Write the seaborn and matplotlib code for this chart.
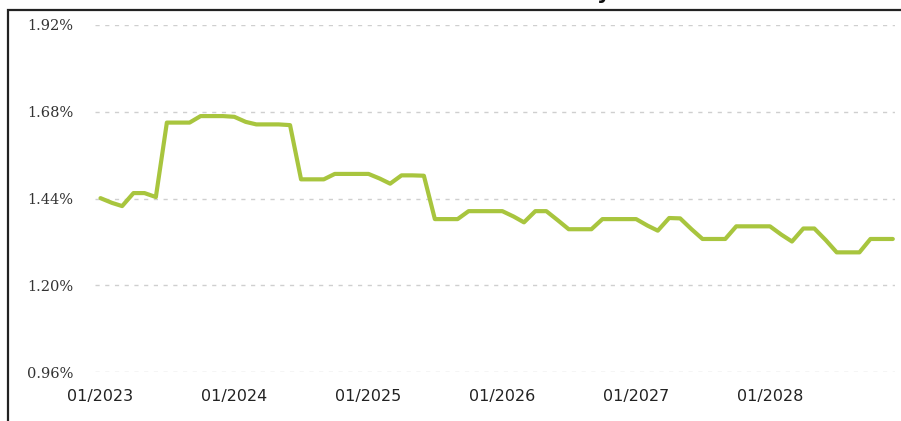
"""
Monthly rate projection, 2023-2028.
"""

import matplotlib
matplotlib.use("Agg")
import matplotlib.pyplot as plt
import matplotlib.dates as mdates
from matplotlib.patches import Rectangle
from matplotlib.ticker import FuncFormatter
import pandas as pd
import seaborn as sns

# one value per month, Jan 2023 .. Dec 2028 (in %)
months = pd.date_range("2023-01-01", periods=72, freq="MS")
rate_2023 = [1.441, 1.428, 1.419, 1.455, 1.455, 1.444,
             1.650, 1.650, 1.650, 1.668, 1.668, 1.668]
rate_2024 = [1.666, 1.652, 1.645, 1.645, 1.645, 1.643,
             1.493, 1.493, 1.493, 1.508, 1.508, 1.508]
rate_2025 = [1.508, 1.495, 1.481, 1.504, 1.504, 1.503,
             1.383, 1.383, 1.383, 1.405, 1.405, 1.405]
rate_2026 = [1.405, 1.390, 1.374, 1.405, 1.405, 1.380,
             1.355, 1.355, 1.355, 1.383, 1.383, 1.383]
rate_2027 = [1.383, 1.365, 1.351, 1.386, 1.385, 1.355,
             1.328, 1.328, 1.328, 1.363, 1.363, 1.363]
rate_2028 = [1.363, 1.340, 1.321, 1.357, 1.357, 1.325,
             1.291, 1.291, 1.291, 1.328, 1.328, 1.328]
y_ticks = [0.96, 1.20, 1.44, 1.68, 1.92]

df = pd.DataFrame({
    "month": months,
    "rate": rate_2023 + rate_2024 + rate_2025 + rate_2026 + rate_2027 + rate_2028,
})

sns.set_style("white")
W, H = 901, 421
fig = plt.figure(figsize=(W / 100, H / 100), dpi=100)
ax = fig.add_axes([95 / W, 1 - 372 / H, 800 / W, 347 / H])

sns.lineplot(data=df, x="month", y="rate", ax=ax, color="#a8c53e",
             linewidth=3.0, solid_joinstyle="round", solid_capstyle="round")

ax.set_ylim(0.96, 1.92)
ax.set_yticks(y_ticks)
ax.yaxis.set_major_formatter(FuncFormatter(lambda v, _: f"{v:.2f}%"))
ax.set_xlim(pd.Timestamp("2022-12-17"), pd.Timestamp("2028-12-07"))
ax.xaxis.set_major_locator(mdates.YearLocator(1, month=1, day=1))
ax.xaxis.set_major_formatter(mdates.DateFormatter("%m/%Y"))

ax.grid(axis="y", color="#cfcfcf", linestyle=(0, (3, 4)), linewidth=1)
ax.grid(axis="x", visible=False)
for s in ax.spines.values():
    s.set_visible(False)

ax.tick_params(axis="y", length=0, pad=68 * 0.72, labelsize=10.5, labelcolor="#333333")
for lbl in ax.get_yticklabels():
    lbl.set_horizontalalignment("left")
    lbl.set_family("DejaVu Serif")
ax.tick_params(axis="x", length=0, pad=12, labelsize=11.5, labelcolor="#222222")
ax.set_xlabel("")
ax.set_ylabel("")

# outer frame of the scanned page (left and top edge visible)
fig.patches.append(Rectangle((8 / W, -0.2), 1.2, 1.2 - 10 / H,
                             transform=fig.transFigure, fill=False,
                             edgecolor="#222222", linewidth=1.6))
# descender of the cut-off title
fig.text(597 / W, 1 + 1 / H, "y", fontsize=15, fontweight="bold",
         color="#111111", va="baseline", ha="left")

fig.savefig("out.png", dpi=100, facecolor="white")
